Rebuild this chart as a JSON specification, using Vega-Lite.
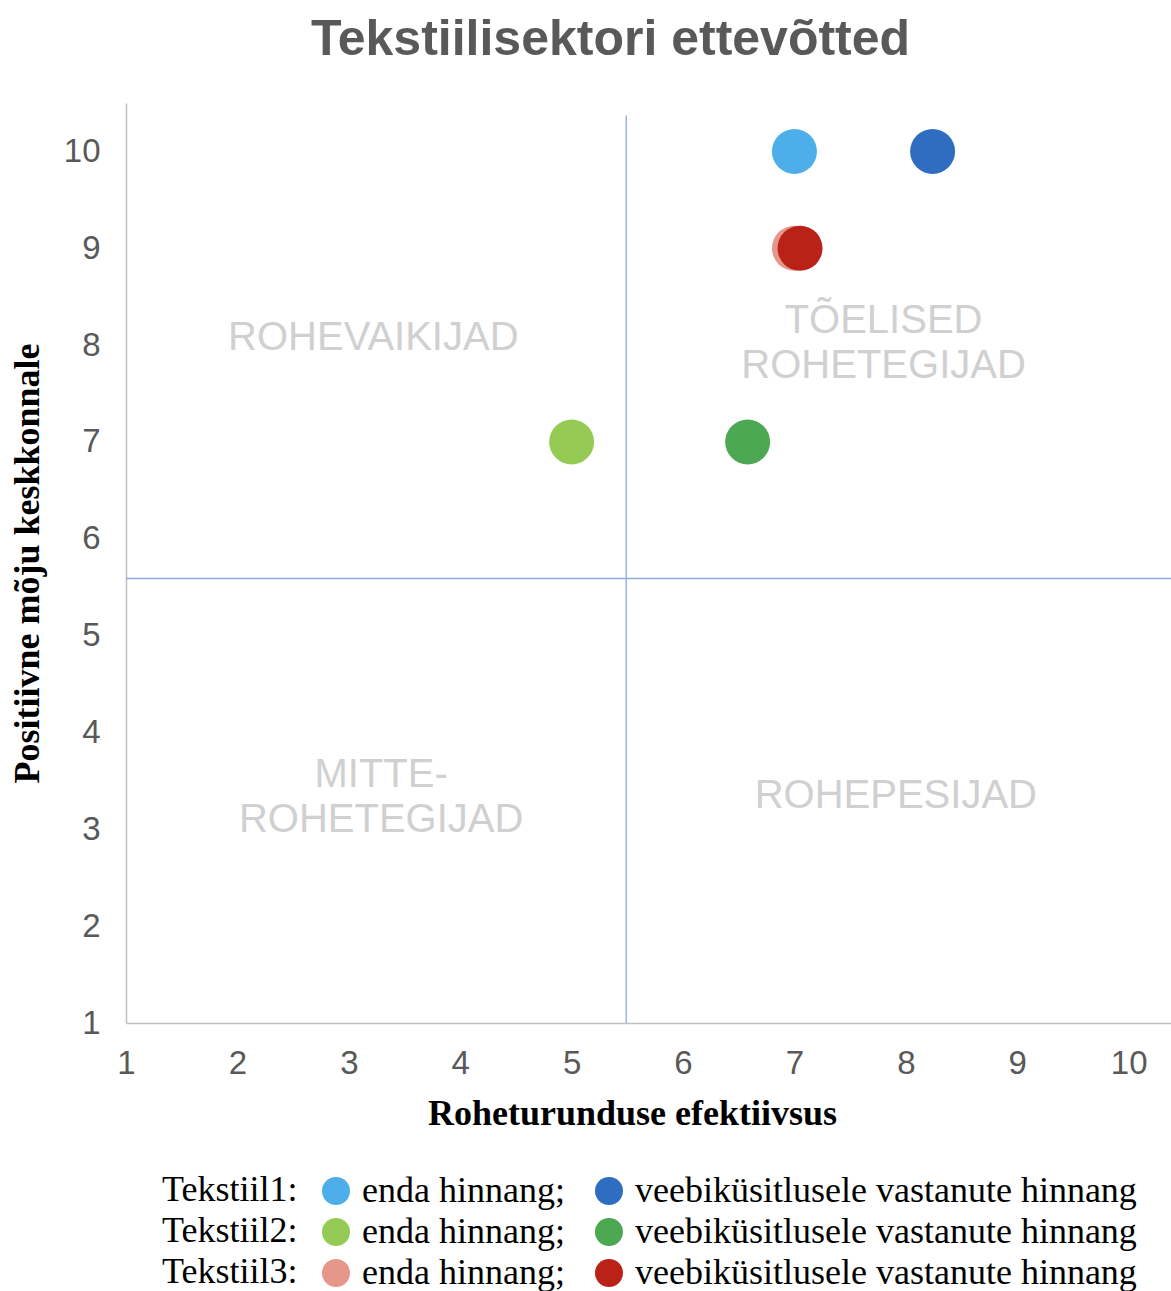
{
  "$schema": "https://vega.github.io/schema/vega-lite/v6.json",
  "width": 1045,
  "height": 920,
  "autosize": {"type": "none"},
  "padding": {"left": 126, "top": 103, "right": 0, "bottom": 268},
  "background": "white",
  "title": {
    "text": "Tekstiilisektori ettevõtted",
    "anchor": "middle",
    "frame": "group",
    "baseline": "alphabetic",
    "offset": 47,
    "dy": 49,
    "dx": -38,
    "fontSize": 50,
    "font": "Liberation Sans",
    "fontWeight": "bold",
    "color": "#595959"
  },
  "config": {
    "view": {"stroke": null},
    "axis": {
      "domainColor": "#BFBFBF",
      "domainWidth": 1.5,
      "ticks": false,
      "grid": false,
      "labelColor": "#595959",
      "labelFont": "Liberation Sans",
      "labelFontSize": 33,
      "labelFlush": false,
      "format": "d",
      "titleFont": "Liberation Serif",
      "titleFontWeight": "bold",
      "titleFontSize": 36,
      "titleColor": "#000000"
    }
  },
  "datasets": {
    "points": [
      {"series": "Tekstiil1: enda hinnang;", "x": 7.0, "y": 10},
      {"series": "Tekstiil1: veebiküsitlusele vastanute hinnang", "x": 8.24, "y": 10},
      {"series": "Tekstiil2: enda hinnang;", "x": 5.0, "y": 7},
      {"series": "Tekstiil2: veebiküsitlusele vastanute hinnang", "x": 6.58, "y": 7},
      {"series": "Tekstiil3: enda hinnang;", "x": 7.0, "y": 9},
      {"series": "Tekstiil3: veebiküsitlusele vastanute hinnang", "x": 7.05, "y": 9}
    ],
    "quadrants": [
      {"label": ["ROHEVAIKIJAD"], "x": 3.22, "y": 8.07},
      {"label": ["TÕELISED", "ROHETEGIJAD"], "x": 7.8, "y": 8.25},
      {"label": ["MITTE-", "ROHETEGIJAD"], "x": 3.29, "y": 3.56},
      {"label": ["ROHEPESIJAD"], "x": 7.91, "y": 3.34}
    ],
    "vline": [{"x": 5.49, "y": 1, "y2": 10.37}],
    "hline": [{"x": 1, "x2": 10.38, "y": 5.59}]
  },
  "layer": [
    {
      "data": {"name": "vline"},
      "mark": {"type": "rule", "color": "#8EA9E0", "strokeWidth": 1.3},
      "encoding": {
        "x": {"field": "x", "type": "quantitative"},
        "y": {"field": "y", "type": "quantitative"},
        "y2": {"field": "y2"}
      }
    },
    {
      "data": {"name": "hline"},
      "mark": {"type": "rule", "color": "#8EA9E0", "strokeWidth": 1.3},
      "encoding": {
        "x": {"field": "x", "type": "quantitative"},
        "x2": {"field": "x2"},
        "y": {"field": "y", "type": "quantitative"}
      }
    },
    {
      "data": {"name": "quadrants"},
      "mark": {"type": "text", "font": "Liberation Sans", "fontSize": 40, "color": "#D0D0D0", "align": "center", "baseline": "middle", "lineHeight": 45},
      "encoding": {
        "x": {"field": "x", "type": "quantitative"},
        "y": {"field": "y", "type": "quantitative"},
        "text": {"field": "label"}
      }
    },
    {
      "data": {"name": "points"},
      "mark": {"type": "circle", "size": 2025, "opacity": 1},
      "encoding": {
        "x": {
          "field": "x", "type": "quantitative",
          "scale": {"domain": [1, 10.38], "nice": false, "zero": false},
          "axis": {"values": [1,2,3,4,5,6,7,8,9,10], "title": "Roheturunduse efektiivsus", "labelPadding": 24, "titlePadding": 16, "titleX": 506}
        },
        "y": {
          "field": "y", "type": "quantitative",
          "scale": {"domain": [1, 10.5], "nice": false, "zero": false},
          "axis": {"values": [1,2,3,4,5,6,7,8,9,10], "title": "Positiivne mõju keskkonnale", "labelPadding": 26, "titlePadding": 17}
        },
        "color": {
          "field": "series", "type": "nominal",
          "scale": {
            "domain": [
              "Tekstiil1: enda hinnang;", "Tekstiil1: veebiküsitlusele vastanute hinnang",
              "Tekstiil2: enda hinnang;", "Tekstiil2: veebiküsitlusele vastanute hinnang",
              "Tekstiil3: enda hinnang;", "Tekstiil3: veebiküsitlusele vastanute hinnang"
            ],
            "range": ["#4DAEEA", "#2E6DBF", "#95CB55", "#4CA852", "#E7968A", "#BA2117"]
          },
          "legend": {
            "orient": "none",
            "legendX": 36,
            "legendY": 1070,
            "direction": "horizontal",
            "columns": 2,
            "title": ["Tekstiil1:", "Tekstiil2:", "Tekstiil3:"],
            "titleOrient": "left",
            "titleAnchor": "start",
            "titleFont": "Liberation Serif",
            "titleFontSize": 36,
            "titleFontWeight": "normal",
            "titleColor": "#000000",
            "titleLineHeight": 41,
            "titleBaseline": "top",
            "titlePadding": 20,
            "labelExpr": "split(datum.label, ': ')[1]",
            "labelFont": "Liberation Serif",
            "labelFontSize": 36,
            "labelColor": "#000000",
            "labelOffset": 8,
            "labelLimit": 0,
            "symbolType": "circle",
            "symbolSize": 784,
            "symbolOpacity": 1,
            "symbolStrokeWidth": 0,
            "columnPadding": 26,
            "rowPadding": 5
          }
        }
      }
    }
  ]
}
